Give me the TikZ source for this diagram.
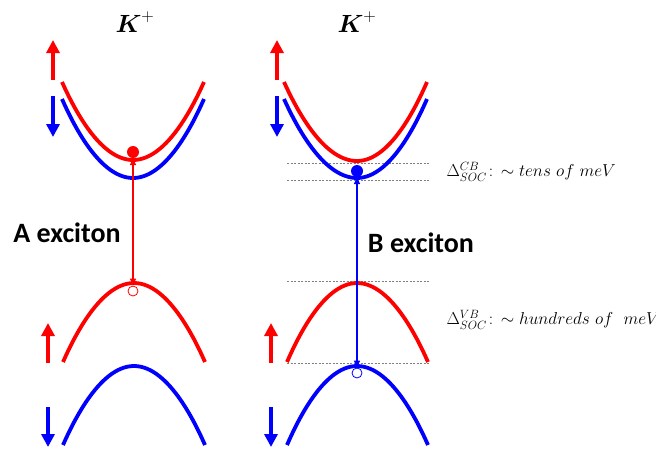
\documentclass[tikz,border=0pt]{standalone}
\usepackage{amsmath,amssymb}
\usepackage{fontspec}
\newfontfamily\labelfont{Carlito}
\usepackage{xcolor}
\definecolor{bandred}{RGB}{255, 0, 0}
\definecolor{bandblue}{RGB}{0, 0, 255}
\usetikzlibrary{arrows.meta,positioning}

\begin{document}
\begin{tikzpicture}[x=1pt, y=-1pt,
    band/.style={line width=3.8pt},
    spinarrow/.style={line width=4pt, -{Triangle[width=13pt,length=13pt]}},
    exciton/.style={line width=1.4pt, {Triangle[width=6pt,length=7pt]}-{Triangle[width=6pt,length=7pt]}},
    level/.style={gray, line width=0.6pt, dash pattern=on 2pt off 1.5pt},
    title/.style={font=\fontsize{25}{30}\selectfont},
    exlabel/.style={font=\labelfont\bfseries\fontsize{28}{32}\selectfont},
    soclabel/.style={anchor=west, font=\fontsize{17}{20}\selectfont},
    electron/.style={circle, fill=#1, inner sep=0pt, minimum size=12pt},
    hole/.style={circle, draw=#1, fill=white, line width=0.8pt, inner sep=0pt, minimum size=10pt}]
    \useasboundingbox (0, 0) rectangle (656, 448);

    % Titles
    \node[title] (tA) at (135, 22) {$\boldsymbol{K}^{+}$};
    \node[title] (tB) at (357, 22) {$\boldsymbol{K}^{+}$};

    % Energy levels (right panel)
    \draw[level] (287, 163) -- (430, 163);
    \draw[level] (287, 180) -- (430, 180);
    \draw[level] (287, 281) -- (430, 281);
    \draw[level] (287, 363) -- (430, 363);

    % Conduction bands
    \draw[band, bandred] (62, 82) parabola bend (133, 160) (204, 82);
    \draw[band, bandblue] (62, 99) parabola bend (133, 178) (204, 99);
    \draw[band, bandred] (284, 82) parabola bend (357, 161) (427, 82);
    \draw[band, bandblue] (284, 99) parabola bend (357, 178) (427, 99);

    % Valence bands
    \draw[band, bandred] (63, 362) parabola bend (134, 283) (205, 362);
    \draw[band, bandblue] (63, 445) parabola bend (134, 366) (205, 445);
    \draw[band, bandred] (287, 362) parabola bend (357, 283) (428, 362);
    \draw[band, bandblue] (287, 445) parabola bend (357, 366) (428, 445);

    % Spin arrows
    \draw[spinarrow, bandred] (53, 80) -- (53, 40);
    \draw[spinarrow, bandblue] (53, 96) -- (53, 137);
    \draw[spinarrow, bandred] (277, 80) -- (277, 40);
    \draw[spinarrow, bandblue] (277, 96) -- (277, 137);
    \draw[spinarrow, bandred] (48, 363) -- (48, 323);
    \draw[spinarrow, bandblue] (48, 407) -- (48, 447);
    \draw[spinarrow, bandred] (271, 363) -- (271, 323);
    \draw[spinarrow, bandblue] (271, 407) -- (271, 447);

    % Electrons and holes
    \node[electron=bandred] (eA) at (133, 152) {};
    \node[hole=bandred] (hA) at (133, 291) {};
    \node[electron=bandblue] (eB) at (357, 171) {};
    \node[hole=bandblue] (hB) at (357, 373) {};

    % Excitons
    \draw[exciton, bandred] (eA) -- (hA);
    \draw[exciton, bandblue] (eB) -- (hB);
    \node[exlabel] (lA) at (67, 233) {A exciton};
    \node[exlabel] (lB) at (421, 243) {B exciton};

    % Spin-orbit splittings
    \node[soclabel] (socCB) at (443, 172) {$\Delta^{CB}_{SOC}\colon\!\sim tens\ of\ meV$};
    \node[soclabel] (socVB) at (443, 320) {$\Delta^{VB}_{SOC}\colon\!\sim hundreds\ of\ \ meV$};
\end{tikzpicture}
\end{document}
